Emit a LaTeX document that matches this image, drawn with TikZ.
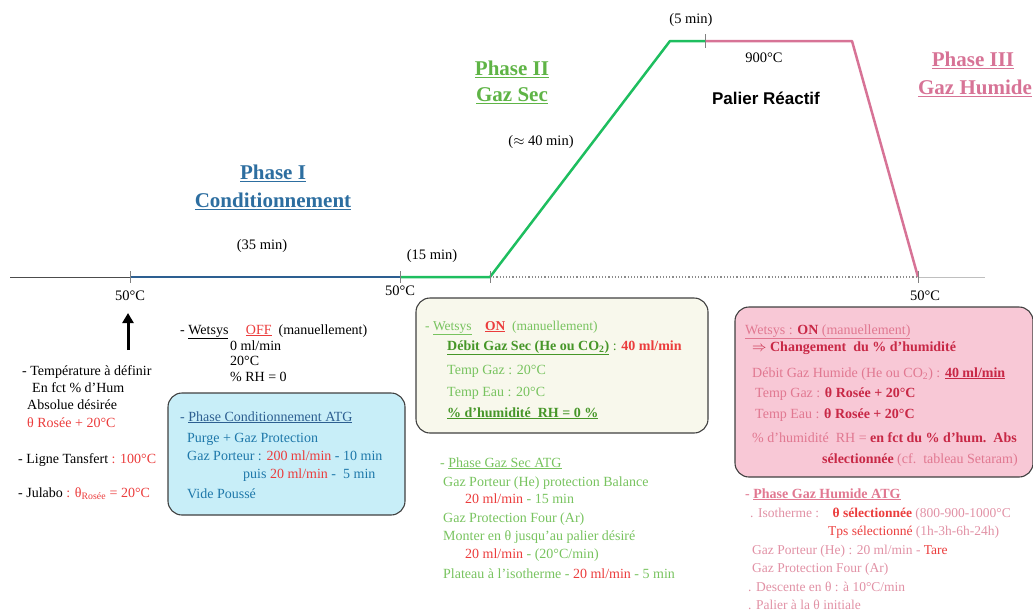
\documentclass[tikz,border=0pt]{standalone}
\usepackage{fontspec}
\setmainfont{Liberation Serif}
\newfontfamily\sansbf{Liberation Sans}
\usetikzlibrary{arrows.meta,calc}
\definecolor{cblue}{RGB}{45,95,145}
\definecolor{ctitleblue}{RGB}{45,110,160}
\definecolor{cgreen}{RGB}{30,190,95}
\definecolor{ctitlegreen}{RGB}{95,180,70}
\definecolor{cpink}{RGB}{215,115,150}
\definecolor{cred}{RGB}{235,60,60}
\definecolor{boxblue}{RGB}{200,238,248}
\definecolor{txtblue}{RGB}{30,120,170}
\definecolor{boxcream}{RGB}{248,248,236}
\definecolor{txtgreen}{RGB}{120,195,95}
\definecolor{dkgreen}{RGB}{70,150,40}
\definecolor{boxpink}{RGB}{248,200,214}
\definecolor{txtpink}{RGB}{225,120,145}
\definecolor{dkpink}{RGB}{200,40,70}
\definecolor{ltpink}{RGB}{225,145,165}
\begin{document}
\begin{tikzpicture}[x=1pt,y=-1pt,
  txt/.style={anchor=base west,inner sep=0pt,font=\fontsize{14}{16}\selectfont},
  stxt/.style={anchor=base west,inner sep=0pt,font=\fontsize{13.5}{15}\selectfont},
  lbl/.style={inner sep=0pt,font=\fontsize{14.5}{16}\selectfont},
  title/.style={inner sep=0pt,font=\fontsize{21}{24}\selectfont\bfseries},
  infobox/.style={draw=black!75,line width=1.1pt,rounded corners=14pt,inner sep=0pt},
  tick/.style={draw=black!50,line width=0.6pt}]
\useasboundingbox (0,0) rectangle (1033,613);
% profile coordinates
\coordinate (a0) at (10,277);
\coordinate (a1) at (130,277);
\coordinate (a2) at (400,277);
\coordinate (a3) at (490,277);
\coordinate (a4) at (670,41);
\coordinate (a5) at (705,41);
\coordinate (a6) at (852,41);
\coordinate (a7) at (918,277);
\coordinate (a8) at (985,277);
\draw[black!70,line width=0.8pt] (a0) -- (a1);
\draw[cblue,line width=2pt] (a1) -- (a2);
\draw[cgreen,line width=2.5pt,line join=round] (a2) -- (a3) -- (a4) -- (a5);
\draw[cpink,line width=2.5pt,line join=round] (a5) -- (a6) -- (a7);
\draw[black!45,line width=1.2pt,dotted] (a3) -- (a7);
\draw[black!25,line width=0.8pt] (a7) -- (a8);
\foreach \c in {a1,a2,a3,a7} \draw[tick] ($(\c)+(0,-6)$) -- ($(\c)+(0,6)$);
\draw[tick] (705,34) -- (705,48);
% axis labels
\node[lbl] (t50a) at (130,296) {50°C};
\node[lbl] (t50b) at (400,291) {50°C};
\node[lbl] (t50c) at (925,296) {50°C};
\node[lbl] (d35) at (262,246) {(35 min)};
\node[lbl] (d15) at (432,256) {(15 min)};
\node[lbl] (d40) at (541,142) {($\approx$ 40 min)};
\node[lbl] (d5) at (691,20) {(5 min)};
\node[lbl] (t900) at (764,58) {900°C};
\node[inner sep=0pt,font=\sansbf\fontsize{17}{20}\selectfont\bfseries] (palier) at (766,98) {Palier Réactif};
% titles
\node[title,text=ctitleblue] (ph1a) at (273,173) {\underline{Phase I}};
\node[title,text=ctitleblue] (ph1b) at (273,201) {\underline{Conditionnement}};
\node[title,text=ctitlegreen] (ph2a) at (512,69) {\underline{Phase II}};
\node[title,text=ctitlegreen] (ph2b) at (512,96) {\underline{Gaz Sec}};
\node[title,text=cpink] (ph3a) at (973,60) {\underline{Phase III}};
\node[title,text=cpink] (ph3b) at (975,88) {\underline{Gaz Humide}};
% arrow
\coordinate (arrtail) at (128,350);
\coordinate (arrhead) at (128,313);
\draw[line width=3pt,-{Triangle[length=10pt,width=11pt]}] (arrtail) -- (arrhead);
% left notes
\node[txt] (l1) at (22,375) {- Température à définir};
\node[txt] (l2) at (32,392) {En fct \% d'Hum};
\node[txt] (l3) at (27,409) {Absolue désirée};
\node[txt,text=cred] (l4) at (27,427) {θ Rosée + 20°C};
\node[txt] (l5) at (18,463) {- Ligne Tansfert \textcolor{cred}{: 100°C}};
\node[txt] (l6) at (18,497) {- Julabo \textcolor{cred}{: θ\textsubscript{Rosée} = 20°C}};
% wetsys off
\node[txt] (w1) at (180,334) {- \underline{Wetsys}\quad\ \textcolor{cred}{\underline{OFF}}\ \ (manuellement)};
\node[txt] (w2) at (230,350) {0 ml/min};
\node[txt] (w3) at (230,365) {20°C};
\node[txt] (w4) at (230,381) {\% RH = 0};
% blue box
\node[infobox,fill=boxblue,minimum width=237pt,minimum height=122pt] (bluebox) at (286.5,454) {};
\node[txt,text=cblue] (b1) at (180,421) {- \underline{Phase Conditionnement ATG}};
\node[txt,text=txtblue] (b2) at (187,442) {Purge + Gaz Protection};
\node[txt,text=txtblue] (b3) at (187,460) {Gaz Porteur : \textcolor{cred}{200 ml/min} - 10 min};
\node[txt,text=txtblue] (b4) at (243,478) {puis \textcolor{cred}{20 ml/min} -\ \ 5 min};
\node[txt,text=txtblue] (b5) at (187,498) {Vide Poussé};
% cream box
\node[infobox,fill=boxcream,minimum width=292pt,minimum height=135pt] (creambox) at (562,365.5) {};
\node[stxt,text=txtgreen] (c1) at (425,330) {- \underline{Wetsys}\quad\textcolor{cred}{\textbf{\underline{ON}}}\ \ (manuellement)};
\node[txt,text=dkgreen] (c2) at (447,350) {\textbf{\underline{Débit Gaz Sec (He ou CO\textsubscript{2})}} : \textcolor{cred}{\textbf{40 ml/min}}};
\node[txt,text=txtgreen] (c3) at (447,374) {Temp Gaz : 20°C};
\node[txt,text=txtgreen] (c4) at (447,396) {Temp Eau : 20°C};
\node[txt,text=dkgreen] (c5) at (447,417) {\textbf{\underline{\% d'humidité\ \ RH = 0 \%}}};
% bottom middle notes
\node[txt,text=txtgreen] (g1) at (440,467) {- \underline{Phase Gaz Sec ATG}};
\node[txt,text=txtgreen] (g2) at (443,486) {Gaz Porteur (He) protection Balance};
\node[txt,text=txtgreen] (g3) at (465,503) {\textcolor{cred}{20 ml/min} - 15 min};
\node[txt,text=txtgreen] (g4) at (443,522) {Gaz Protection Four (Ar)};
\node[txt,text=txtgreen] (g5) at (443,540) {Monter en θ jusqu'au palier désiré};
\node[txt,text=txtgreen] (g6) at (465,558) {\textcolor{cred}{20 ml/min} - (20°C/min)};
\node[txt,text=txtgreen] (g7) at (443,578) {Plateau à l'isotherme - \textcolor{cred}{20 ml/min} - 5 min};
% pink box
\node[infobox,fill=boxpink,minimum width=298pt,minimum height=170pt] (pinkbox) at (884,392) {};
\node[txt,text=txtpink] (p1) at (745,334) {\underline{Wetsys : \textcolor{dkpink}{\textbf{ON}} (manuellement)}};
\node[txt,text=dkpink,font=\fontsize{14}{16}\selectfont\bfseries] (p2) at (752,351) {$\Rightarrow$ Changement\ \ du \% d'humidité};
\node[txt,text=txtpink] (p3) at (752,377) {Débit Gaz Humide (He ou CO\textsubscript{2}) : \textcolor{dkpink}{\textbf{\underline{40 ml/min}}}};
\node[txt,text=txtpink] (p4) at (755,397) {Temp Gaz : \textcolor{dkpink}{\textbf{θ Rosée + 20°C}}};
\node[txt,text=txtpink] (p5) at (755,418) {Temp Eau : \textcolor{dkpink}{\textbf{θ Rosée + 20°C}}};
\node[txt,text=txtpink] (p6) at (752,442) {\% d'humidité\ \ RH = \textcolor{dkpink}{\textbf{en fct du \% d'hum.\ \ Abs}}};
\node[txt,text=txtpink] (p7) at (822,463) {\textcolor{dkpink}{\textbf{sélectionnée}} (cf.\ \ tableau Setaram)};
% bottom right notes
\node[txt,text=txtpink] (r1) at (745,498) {- \textbf{\underline{Phase Gaz Humide ATG}}};
\node[stxt,text=ltpink] (r2) at (750,517) {. Isotherme :\quad \textcolor{cred}{\textbf{θ sélectionnée}} (800-900-1000°C};
\node[stxt,text=ltpink] (r3) at (828,535) {\textcolor{cred}{Tps sélectionné} (1h-3h-6h-24h)};
\node[stxt,text=ltpink] (r4) at (752,554) {Gaz Porteur (He) : 20 ml/min - \textcolor{cred}{Tare}};
\node[stxt,text=ltpink] (r5) at (752,572) {Gaz Protection Four (Ar)};
\node[stxt,text=ltpink] (r6) at (748,591) {. Descente en θ : à 10°C/min};
\node[stxt,text=ltpink] (r7) at (748,609) {. Palier à la θ initiale};
\end{tikzpicture}
\end{document}
